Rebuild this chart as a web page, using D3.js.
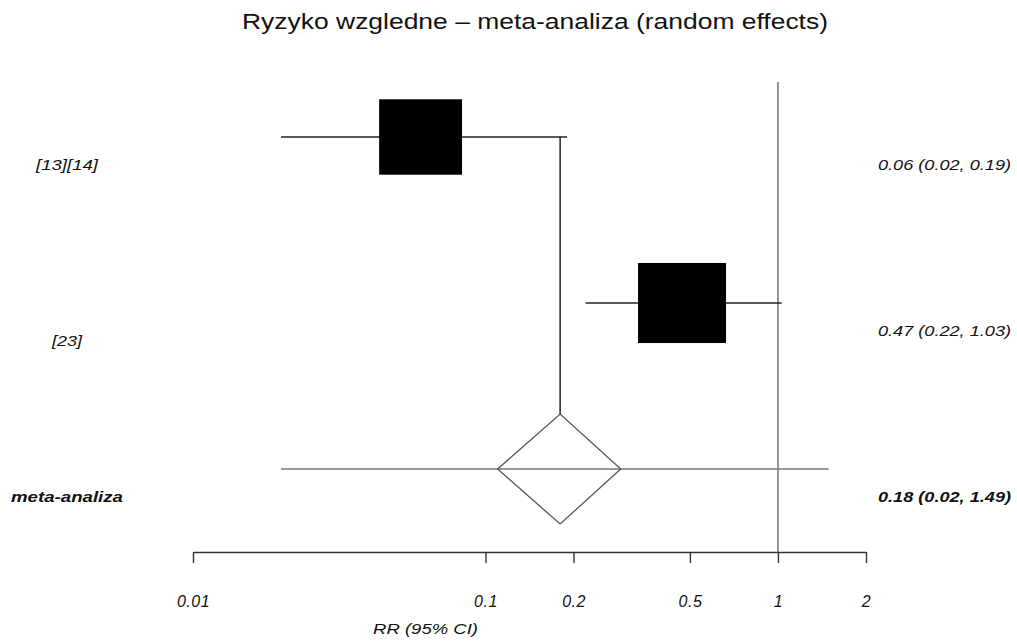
<!DOCTYPE html>
<html>
<head>
<meta charset="utf-8">
<script src="https://cdn.jsdelivr.net/npm/d3@7"></script>
<style>
  html, body { margin: 0; padding: 0; background: #fff; }
  svg { display: block; font-family: "Liberation Sans", Arial, sans-serif; }
</style>
</head>
<body>
<svg id="chart" width="1017" height="641"></svg>
<script>
// Studies and pooled estimate (relative risk with 95% CI)
const studies = ["[13][14]", "[23]", "meta-analiza"];
const rr      = [0.06, 0.47, 0.18];
const lower   = [0.02, 0.22, 0.02];
const upper   = [0.19, 1.03, 1.49];
const weights = [47, 53];              // study weights (%), set box size
const pooledDiamond = [0.11, 0.29];    // horizontal extent of the pooled diamond
const tickValues = [0.01, 0.1, 0.2, 0.5, 1, 2];
const tickLabels = ["0.01", "0.1", "0.2", "0.5", "1", "2"];

const svg = d3.select("#chart");

const x = d3.scaleLog().domain([0.01, 2]).range([193, 866]);
const y = d3.scalePoint().domain(studies).range([137, 469]);
const axisY = 552;
const box = d3.scaleSqrt().domain([0, 53]).range([0, 88]);

// Title
svg.append("text")
  .attr("x", 242).attr("y", 29)
  .attr("textLength", 586).attr("lengthAdjust", "spacingAndGlyphs")
  .style("font-size", "22px").attr("fill", "#111")
  .text("Ryzyko wzgledne \u2013 meta-analiza (random effects)");

// Line of no effect (RR = 1)
svg.append("line")
  .attr("x1", x(1)).attr("x2", x(1))
  .attr("y1", 82).attr("y2", axisY)
  .attr("stroke", "#666").attr("stroke-width", 1.4);

// Axis
const axis = d3.axisBottom(x)
  .tickValues(tickValues)
  .tickFormat((d, i) => tickLabels[i])
  .tickSizeInner(11).tickSizeOuter(0)
  .tickPadding(33);
const gAxis = svg.append("g").attr("transform", `translate(0,${axisY})`).call(axis);
gAxis.select(".domain").attr("stroke", "#333").attr("stroke-width", 1.4);
gAxis.selectAll(".tick line").attr("stroke", "#333").attr("stroke-width", 1.4);
gAxis.selectAll(".tick text")
  .attr("fill", "#111")
  .style("font-size", "16px").style("font-style", "italic")
  .style("letter-spacing", "0.5px")
  .attr("font-family", null);

svg.append("text")
  .attr("x", 373).attr("y", 634)
  .attr("textLength", 105).attr("lengthAdjust", "spacingAndGlyphs")
  .style("font-size", "15px").style("font-style", "italic").attr("fill", "#111")
  .text("RR (95% CI)");

// Individual studies: CI lines and weighted boxes
const indiv = d3.range(weights.length);
svg.selectAll("line.ci")
  .data(indiv).join("line").attr("class", "ci")
  .attr("x1", i => x(lower[i])).attr("x2", i => x(upper[i]))
  .attr("y1", i => y(studies[i])).attr("y2", i => y(studies[i]))
  .attr("stroke", "#222").attr("stroke-width", 1.5);

svg.selectAll("rect.box")
  .data(indiv).join("rect").attr("class", "box")
  .attr("x", i => x(rr[i]) - box(weights[i]) / 2)
  .attr("y", i => y(studies[i]) - box(weights[i]) * 0.455)
  .attr("width", i => box(weights[i]))
  .attr("height", i => box(weights[i]) * 0.91)
  .attr("fill", "#000");

// Pooled estimate
const p = 2;
const py = y(studies[p]);
svg.append("line")
  .attr("x1", x(rr[p])).attr("x2", x(rr[p]))
  .attr("y1", y(studies[0])).attr("y2", py - 55)
  .attr("stroke", "#222").attr("stroke-width", 1.5);

svg.append("line")
  .attr("x1", x(lower[p])).attr("x2", x(upper[p]))
  .attr("y1", py).attr("y2", py)
  .attr("stroke", "#777").attr("stroke-width", 1.3);

svg.append("path")
  .attr("d", d3.line()([
    [x(pooledDiamond[0]), py],
    [x(rr[p]), py - 55],
    [x(pooledDiamond[1]), py],
    [x(rr[p]), py + 55]
  ]) + "Z")
  .attr("fill", "none").attr("stroke", "#555").attr("stroke-width", 1.3);

// Row labels (left) and estimates (right)
const labelWidth = [62, 30, 112];
const labelShift = [0, 10, 0];
svg.selectAll("text.study")
  .data(studies).join("text").attr("class", "study")
  .attr("x", 67).attr("y", (d, i) => y(d) + 33 + labelShift[i])
  .attr("text-anchor", "middle")
  .attr("textLength", (d, i) => labelWidth[i]).attr("lengthAdjust", "spacingAndGlyphs")
  .style("font-size", "15px").style("font-style", "italic")
  .style("font-weight", (d, i) => i === p ? "bold" : "normal")
  .attr("fill", "#111")
  .text(d => d);

const fmt = d3.format(".2f");
svg.selectAll("text.est")
  .data(studies).join("text").attr("class", "est")
  .attr("x", 878).attr("y", (d, i) => y(d) + 33)
  .attr("textLength", 133).attr("lengthAdjust", "spacingAndGlyphs")
  .style("font-size", "15px").style("font-style", "italic")
  .style("font-weight", (d, i) => i === p ? "bold" : "normal")
  .attr("fill", "#111")
  .text((d, i) => `${fmt(rr[i])} (${fmt(lower[i])}, ${fmt(upper[i])})`);
</script>
</body>
</html>
